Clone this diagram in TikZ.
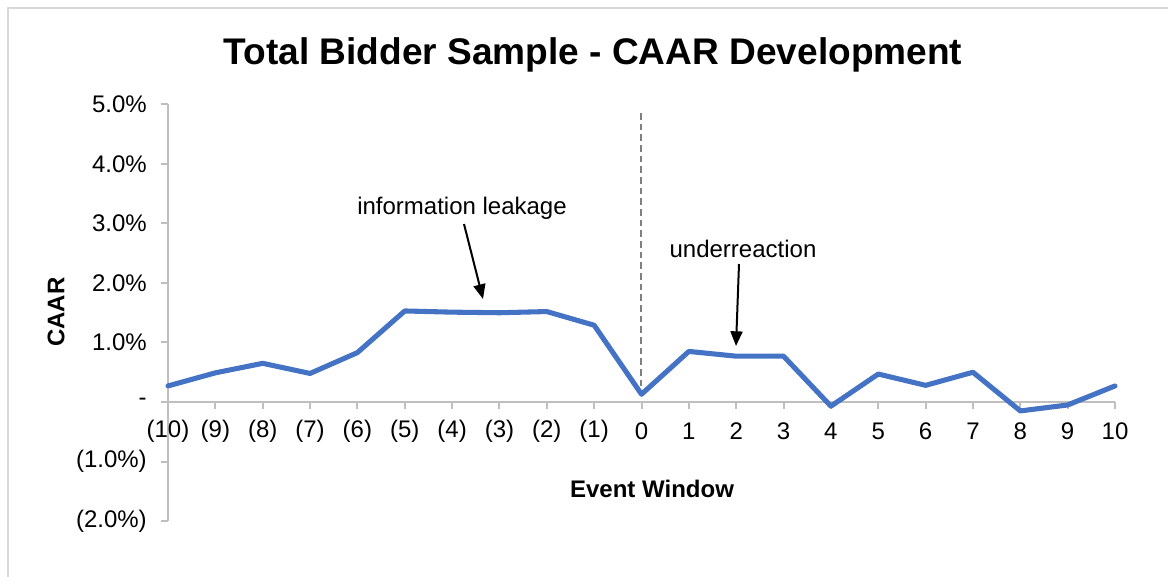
\documentclass[tikz,border=0pt]{standalone}
\usepackage{fontspec}
\setmainfont{Liberation Sans}
\usetikzlibrary{arrows.meta}
\definecolor{seriesblue}{HTML}{4472C4}
\definecolor{axisgray}{HTML}{BFBFBF}
\definecolor{framegray}{HTML}{D9D9D9}
\definecolor{dashgray}{HTML}{808080}
\tikzset{
  axisline/.style={axisgray, line width=1.5pt},
  ticklabel/.style={font=\fontsize{18}{21}\selectfont, inner sep=0pt},
  notelabel/.style={font=\fontsize{18}{21}\selectfont, inner sep=0pt},
  notearrow/.style={black, line width=1.5pt, -{Triangle[length=11pt,width=9pt]}},
  series/.style={seriesblue, line width=3.8pt, line join=round, line cap=round},
}
\begin{document}
\begin{tikzpicture}[x=0.75pt, y=-0.75pt]
\useasboundingbox (0,0) rectangle (1168,577);
% chart frame
\draw[framegray, line width=1.5pt] (8,600) -- (8,8.5) -- (1200,8.5);

% title
\node[font=\bfseries\fontsize{27.8}{32}\selectfont, anchor=base, inner sep=0pt] (title) at (593,65) {Total Bidder Sample - CAAR Development};

% value axis
\coordinate (ytop) at (168,104);
\coordinate (ybot) at (168,521);
\draw[axisline] (ytop) -- (ybot);
\foreach \v/\lab [count=\k] in {5/5.0\%, 4/4.0\%, 3/3.0\%, 2/2.0\%, 1/1.0\%, 0/-, -1/(1.0\%), -2/(2.0\%)} {
  \pgfmathsetmacro{\yy}{402-59.5*\v}
  \draw[axisline] (161,\yy) -- (168,\yy);
  \node[ticklabel, anchor=east] (ylab\k) at (147,\yy) {\lab};
}

% category axis
\coordinate (xleft) at (168,402);
\coordinate (xright) at (1115,402);
\draw[axisline] (xleft) -- (xright);
\foreach \lab [count=\i from 0] in {(10),(9),(8),(7),(6),(5),(4),(3),(2),(1),0,1,2,3,4,5,6,7,8,9,10} {
  \pgfmathsetmacro{\xx}{168+47.35*\i}
  \draw[axisline] (\xx,402) -- (\xx,409);
  \node[ticklabel] (xlab\i) at (\xx,431) {\lab};
}

% axis titles
\node[font=\bfseries\fontsize{18}{21}\selectfont, rotate=90, inner sep=0pt] (ytitle) at (56,312) {CAAR};
\node[font=\bfseries\fontsize{18}{21}\selectfont, inner sep=0pt] (xtitle) at (652,489) {Event Window};

% event day marker
\coordinate (evtop) at (641,113);
\coordinate (evbot) at (641,394);
\draw[dashgray, line width=1.3pt, dash pattern=on 5pt off 3pt] (evtop) -- (evbot);

% CAAR series
\foreach \v [count=\i from 0] in {0.27,0.49,0.65,0.48,0.83,1.53,1.51,1.50,1.52,1.29,0.13,0.85,0.77,0.77,-0.07,0.47,0.28,0.50,-0.15,-0.05,0.27} {
  \coordinate (p\i) at ({168+47.35*\i},{402-59.5*\v});
}
\draw[series] (p0) \foreach \i in {1,...,20} { -- (p\i) };

% annotations
\node[notelabel] (leak) at (462,208) {information leakage};
\coordinate (leaktip) at (483,299);
\draw[notearrow] (464,224) -- (leaktip);
\node[notelabel] (under) at (743,249) {underreaction};
\coordinate (undertip) at (736,346);
\draw[notearrow] (739,264) -- (undertip);
\end{tikzpicture}
\end{document}
